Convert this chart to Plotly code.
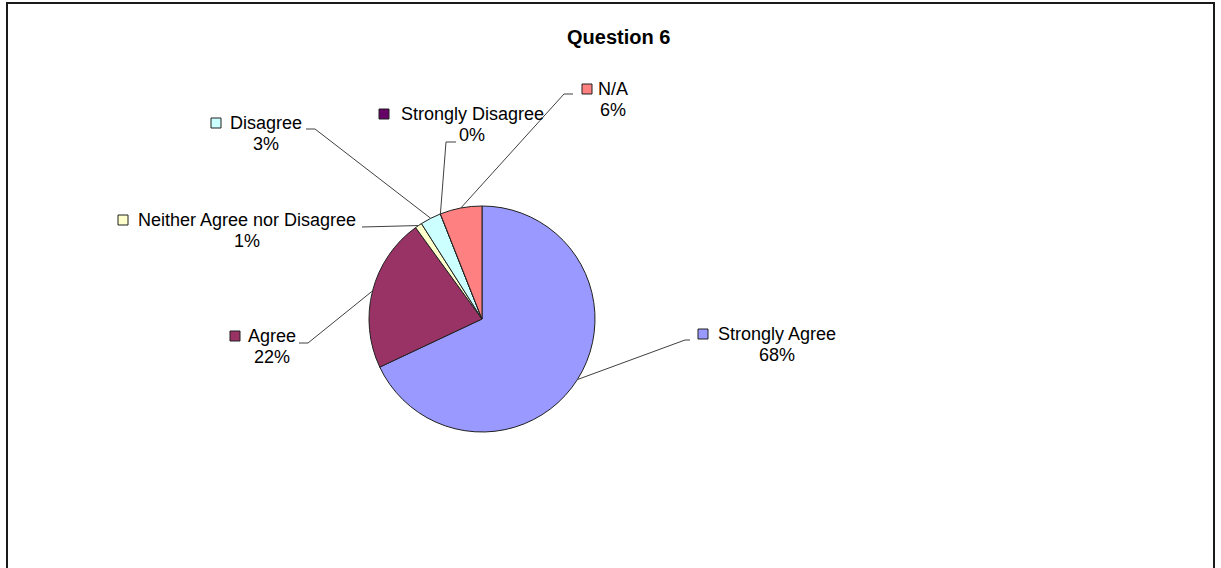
import math
import plotly.graph_objects as go

W, H = 1221, 568

# Survey responses, question 6 (percent of respondents)
categories = ["Strongly Agree", "Agree", "Neither Agree nor Disagree",
              "Disagree", "Strongly Disagree", "N/A"]
percentages = [68, 22, 1, 3, 0, 6]
colors = ["#9999FF", "#993366", "#FFFFCC", "#CCFFFF", "#660066", "#FF8080"]

# Pie geometry in pixels
PIE_CX, PIE_CY, PIE_R = 482, 319, 113

# Label layout in pixels: text centre x, first-line centre y, key centre x,
# leader elbow (x, y) and leader end x next to the label
label_layout = {
    "Strongly Agree":             dict(cx=777, y=334, kx=703, elbow=(685, 340), end=690),
    "Agree":                      dict(cx=272, y=336, kx=235, elbow=(308, 343), end=299),
    "Neither Agree nor Disagree": dict(cx=247, y=220, kx=123, elbow=None, end=362, ly=227),
    "Disagree":                   dict(cx=266, y=123, kx=216, elbow=(315, 129), end=306),
    "Strongly Disagree":          dict(cx=472, y=114, kx=384, elbow=(446, 142), end=456),
    "N/A":                        dict(cx=613, y=89,  kx=587, elbow=(564, 94), end=573),
}
LINE_GAP = 21


def px(x):
    return x / W


def py(y):
    return 1 - y / H


fig = go.Figure(go.Pie(
    labels=categories,
    values=percentages,
    marker=dict(colors=colors, line=dict(color="#202020", width=1)),
    sort=False,
    direction="clockwise",
    rotation=0,
    textinfo="none",
    hoverinfo="label+percent",
    showlegend=False,
    domain=dict(x=[px(PIE_CX - PIE_R), px(PIE_CX + PIE_R)],
                y=[py(PIE_CY + PIE_R), py(PIE_CY - PIE_R)]),
))

shapes = []
annotations = []
total = sum(percentages)
cum = 0.0
font = dict(family="Liberation Sans, Arial, sans-serif", size=18, color="#000000")
line_style = dict(color="#404040", width=1)

for name, value, color in zip(categories, percentages, colors):
    mid = (cum + value / 2) / total * 2 * math.pi
    cum += value
    ex = PIE_CX + PIE_R * math.sin(mid)
    ey = PIE_CY - PIE_R * math.cos(mid)
    lay = label_layout[name]

    # leader line from the slice edge to the label
    if lay["elbow"] is None:
        ly = lay["ly"]
        shapes.append(dict(type="line", xref="paper", yref="paper",
                           x0=px(ex), y0=py(ey), x1=px(lay["end"]), y1=py(ly),
                           line=line_style))
    else:
        bx, by = lay["elbow"]
        shapes.append(dict(type="line", xref="paper", yref="paper",
                           x0=px(ex), y0=py(ey), x1=px(bx), y1=py(by),
                           line=line_style))
        shapes.append(dict(type="line", xref="paper", yref="paper",
                           x0=px(bx), y0=py(by), x1=px(lay["end"]), y1=py(by),
                           line=line_style))

    # legend key square
    k = 5
    shapes.append(dict(type="rect", xref="paper", yref="paper",
                       x0=px(lay["kx"] - k), x1=px(lay["kx"] + k),
                       y0=py(lay["y"] + k), y1=py(lay["y"] - k),
                       fillcolor=color, line=dict(color="#202020", width=1)))

    # category name and its percentage beneath
    annotations.append(dict(
        xref="paper", yref="paper", x=px(lay["cx"]), y=py(lay["y"]),
        xanchor="center", yanchor="middle", showarrow=False, text=name, font=font,
    ))
    annotations.append(dict(
        xref="paper", yref="paper", x=px(lay["cx"]), y=py(lay["y"] + LINE_GAP),
        xanchor="center", yanchor="middle", showarrow=False,
        text=f"{round(value / total * 100)}%", font=font,
    ))

# chart title
annotations.append(dict(
    xref="paper", yref="paper", x=px(618), y=py(37), xanchor="center", yanchor="middle",
    showarrow=False, text="<b>Question 6</b>",
    font=dict(family="Liberation Sans, Arial, sans-serif", size=20, color="#000000"),
))

# chart frame
shapes.append(dict(type="rect", xref="paper", yref="paper",
                   x0=px(7), x1=px(1214), y0=py(H + 10), y1=py(3),
                   line=dict(color="#1a1a1a", width=2), fillcolor="rgba(0,0,0,0)"))

fig.update_layout(
    width=W, height=H,
    margin=dict(l=0, r=0, t=0, b=0),
    paper_bgcolor="white", plot_bgcolor="white",
    shapes=shapes, annotations=annotations,
)

fig.write_html("out.html")
